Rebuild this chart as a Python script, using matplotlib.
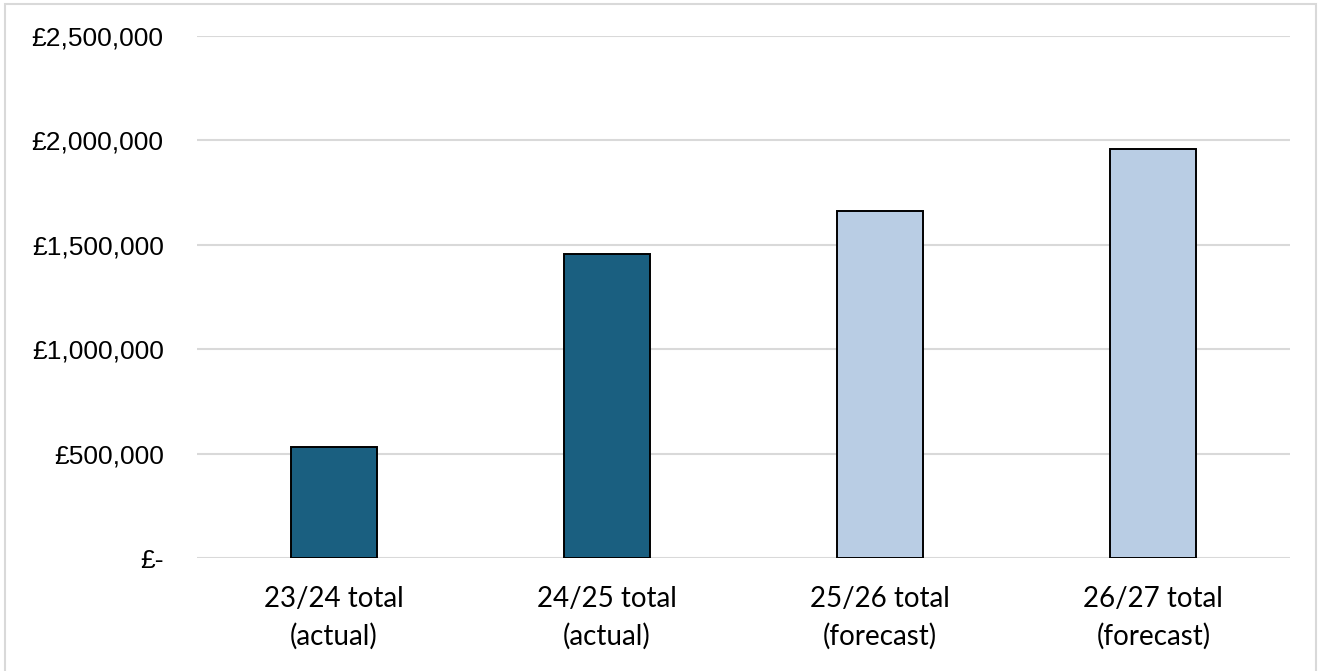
import matplotlib
matplotlib.use("Agg")
import matplotlib.pyplot as plt
from matplotlib.patches import Rectangle
from matplotlib.ticker import FuncFormatter

categories = ["23/24 total\n(actual)", "24/25 total\n(actual)",
              "25/26 total\n(forecast)", "26/27 total\n(forecast)"]
totals = [531000, 1455000, 1660000, 1958000]
kinds = ["actual", "actual", "forecast", "forecast"]

colours = {"actual": "#1A5F80", "forecast": "#B9CDE4"}
y_ticks = [0, 500000, 1000000, 1500000, 2000000, 2500000]


def money(v, pos):
    if v == 0:
        return "£-"
    return "£{:,.0f}".format(v)


fig = plt.figure(figsize=(13.21, 6.71), dpi=100)
# light frame round the chart (bottom edge runs off the picture)
fig.patches.append(Rectangle((5 / 1321, -0.02), 1311 / 1321, 1.02 - 4 / 671,
                             transform=fig.transFigure, fill=False,
                             edgecolor="#D9D9D9", linewidth=1.5))

ax = fig.add_axes([197 / 1321, 113 / 671, 1093 / 1321, 522 / 671])
x = range(len(categories))
ax.bar(x, totals, width=0.315, color=[colours[k] for k in kinds],
       edgecolor="black", linewidth=1.4, zorder=3)

ax.set_xlim(-0.5, len(categories) - 0.5)
ax.set_ylim(0, 2500000)
ax.set_yticks(y_ticks)
ax.yaxis.set_major_formatter(FuncFormatter(money))
ax.grid(axis="y", color="#D9D9D9", linewidth=1.5, zorder=0)
for s in ax.spines.values():
    s.set_visible(False)
ax.tick_params(axis="both", length=0)
ax.tick_params(axis="y", pad=24)
ax.tick_params(axis="x", pad=20)

ax.set_xticks(list(x))
ax.set_xticklabels(categories, fontsize=20, family="Lato", linespacing=1.5)
for lab in ax.get_yticklabels():
    lab.set_fontsize(19)
    lab.set_family("Liberation Sans")

fig.savefig("out.png", dpi=100)
